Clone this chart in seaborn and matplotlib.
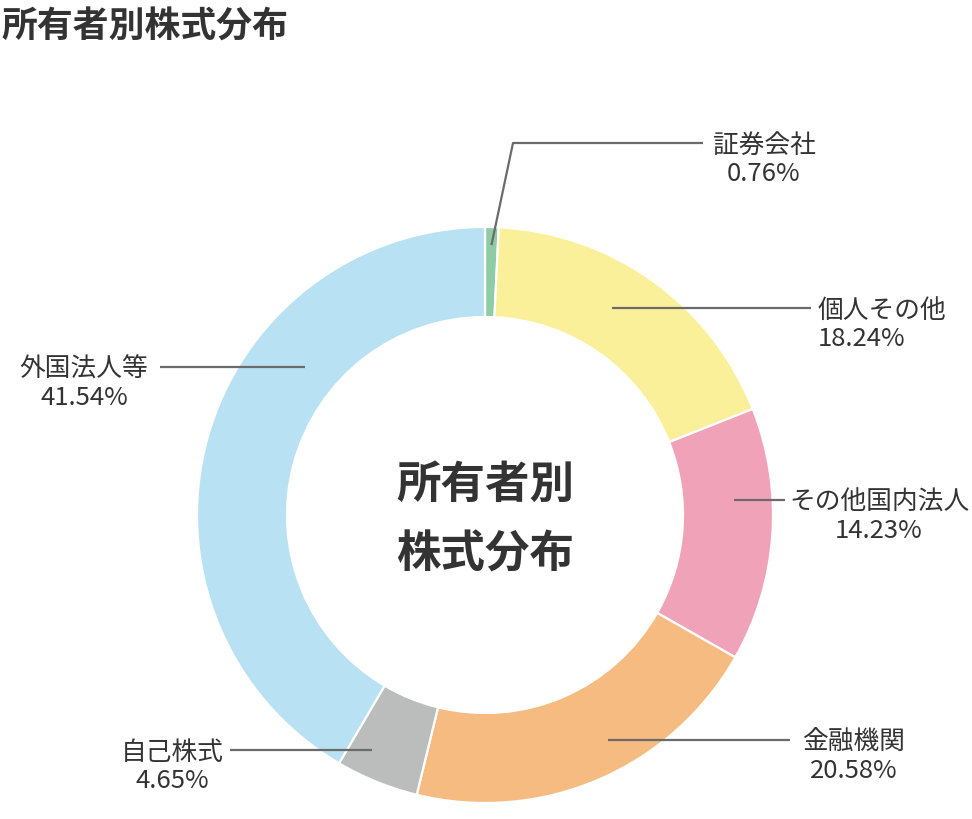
import matplotlib
matplotlib.use("Agg")
import matplotlib.pyplot as plt
import seaborn as sns
import numpy as np

# データ（所有者別株式分布）
categories = ["証券会社", "個人その他", "その他国内法人", "金融機関", "自己株式", "外国法人等"]
shares = [0.76, 18.24, 14.23, 20.58, 4.65, 41.54]
colors = ["#8dcca4", "#faf09a", "#f0a3b8", "#f6bb80", "#bbbcbc", "#b8e1f3"]

sns.set_theme(style="white")
plt.rcParams["font.family"] = ["Noto Sans CJK JP", "DejaVu Sans"]

W, H = 972, 820
CX, CY = 485, 516
R_OUT, R_IN = 288, 198
TEXT = "#333333"
LINE = "#6b6b6b"

fig = plt.figure(figsize=(W / 100, H / 100), dpi=100)
ax = fig.add_axes([0, 0, 1, 1])

# y軸を反転してピクセル座標で描く -> startangle=-90, counterclock=True で上から時計回り
wedges, _ = ax.pie(
    shares,
    colors=colors,
    center=(CX, CY),
    radius=R_OUT,
    startangle=-90,
    counterclock=True,
    wedgeprops=dict(width=R_OUT - R_IN, edgecolor="white", linewidth=1.6),
)
ax.set_xlim(0, W)
ax.set_ylim(H, 0)
ax.set_aspect("auto")
ax.axis("off")

# ラベル配置: (テキストx, y, ha, 引き出し線の開始x, 終了x)
layout = [
    (764, 144, "center", None, 703),
    (818, 309, "left", 612, 811),
    (879, 501, "center", 734, 785),
    (854, 741, "center", 608, 790),
    (172, 751, "center", 372, 230),
    (84, 368, "center", 305, 160),
]

for i, (name, val) in enumerate(zip(categories, shares)):
    tx, ty, ha, x0, x1 = layout[i]
    if x0 is None:
        # 小さいスライスは中央角から折れ線で引き出す
        mid = (wedges[i].theta1 + wedges[i].theta2) / 2
        px = CX + 270 * np.cos(np.deg2rad(mid))
        py = CY + 270 * np.sin(np.deg2rad(mid))
        ax.plot([px, 513, x1], [py, ty, ty], color=LINE, lw=1.6,
                solid_capstyle="butt")
    else:
        ax.plot([x0, x1], [ty, ty], color=LINE, lw=1.6, solid_capstyle="butt")
    ax.text(tx, ty + 2, name, ha=ha, va="center", fontsize=18.5, color=TEXT)
    ax.text(tx, ty + 30, f"{val:.2f}%", ha=ha, va="center", fontsize=18.5,
            color=TEXT)

# 中央テキスト
ax.text(CX, 485, "所有者別", ha="center", va="center", fontsize=32,
        fontweight="bold", color=TEXT)
ax.text(CX, 555, "株式分布", ha="center", va="center", fontsize=32,
        fontweight="bold", color=TEXT)

# タイトル
ax.text(2, 27, "所有者別株式分布", ha="left", va="center", fontsize=25.8,
        fontweight="bold", color=TEXT)

fig.savefig("out.png", dpi=100)
